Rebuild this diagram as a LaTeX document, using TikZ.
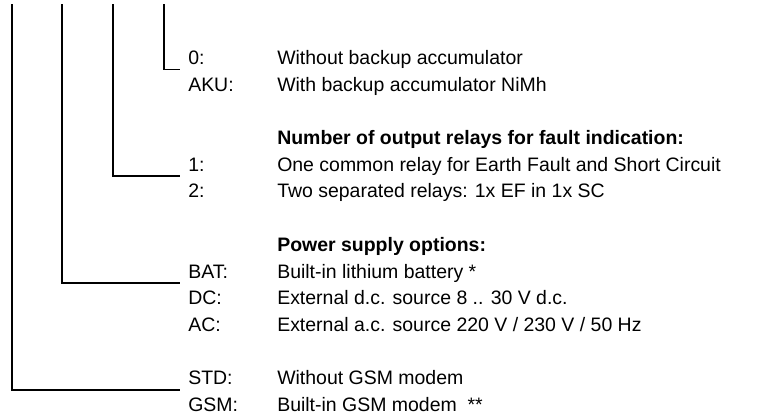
\documentclass[tikz,border=0pt]{standalone}
\usepackage{fontspec}
\setmainfont{Liberation Sans}
\begin{document}
\begin{tikzpicture}[x=0.75pt,y=-0.75pt,
  lbl/.style={anchor=base west,inner xsep=6.75pt,inner ysep=0pt,font=\fontsize{14.6}{17}\selectfont},
  desc/.style={anchor=base west,inner sep=0pt,font=\fontsize{14.6}{17}\selectfont},
  head/.style={anchor=base west,inner sep=0pt,font=\fontsize{14.6}{17}\selectfont\bfseries},
  conn/.style={line width=1.3pt,line cap=rect}]
\useasboundingbox (0,0) rectangle (767,416);
\def\dx{277}
% rows: baseline = 64.5 + 26.7*i
\node[lbl] (l0) at (179,64.5) {0:};
\node[desc] (d0) at (\dx,64.5) {Without backup accumulator};
\node[lbl] (laku) at (179,91.2) {AKU:};
\node[desc] (daku) at (\dx,91.2) {With backup accumulator NiMh};
\node[head] (h1) at (\dx,144.6) {Number of output relays for fault indication:};
\node[lbl] (l1) at (179,171.3) {1:};
\node[desc] (d1) at (\dx,171.3) {One common relay for Earth Fault and Short Circuit};
\node[lbl] (l2) at (179,198.0) {2:};
\node[desc] (d2) at (\dx,198.0) {Two separated relays: 1x EF in 1x SC};
\node[head] (h2) at (\dx,251.4) {Power supply options:};
\node[lbl] (lbat) at (179,278.1) {BAT:};
\node[desc] (dbat) at (\dx,278.1) {Built-in lithium battery *};
\node[lbl] (ldc) at (179,304.8) {DC:};
\node[desc] (ddc) at (\dx,304.8) {External d.c. source 8 .. 30 V d.c.};
\node[lbl] (lac) at (179,331.5) {AC:};
\node[desc] (dac) at (\dx,331.5) {External a.c. source 220 V / 230 V / 50 Hz};
\node[lbl] (lstd) at (179,384.9) {STD:};
\node[desc] (dstd) at (\dx,384.9) {Without GSM modem};
\node[lbl] (lgsm) at (179,411.6) {GSM:};
\node[desc] (dgsm) at (\dx,411.6) {Built-in GSM modem \ **};
\coordinate (t1) at (12,5);
\coordinate (t2) at (62,5);
\coordinate (t3) at (113,5);
\coordinate (t4) at (164,5);
\draw[conn] (t4) |- ([yshift=-3.75pt]l0.base west);
\draw[conn] (t3) |- ([yshift=-3.75pt]l1.base west);
\draw[conn] (t2) |- ([yshift=-3.75pt]lbat.base west);
\draw[conn] (t1) |- ([yshift=-3.75pt]lstd.base west);
\end{tikzpicture}
\end{document}
